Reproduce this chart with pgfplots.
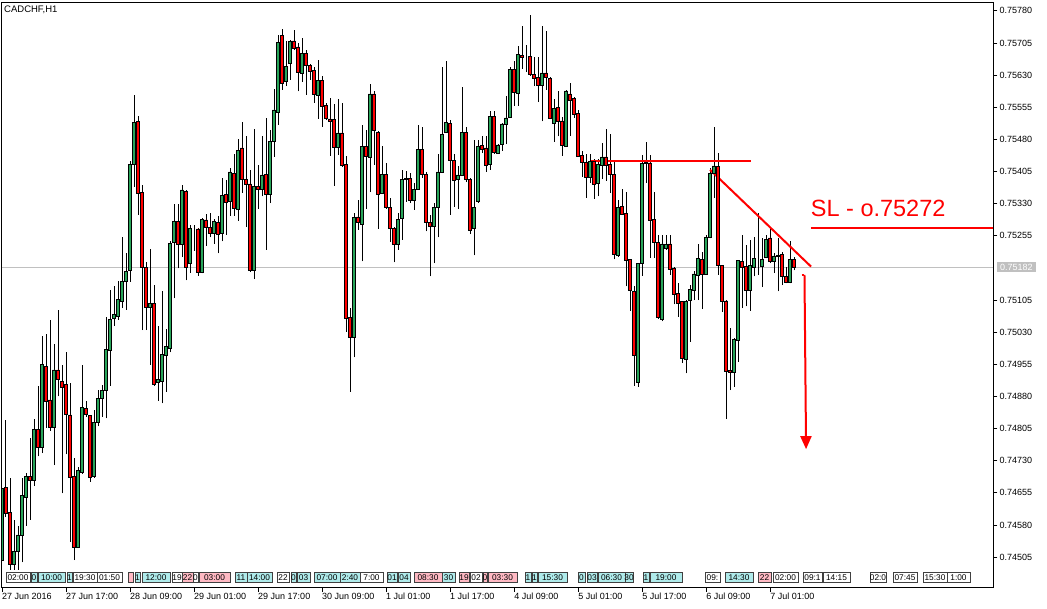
\documentclass[border=0pt]{standalone}
\usepackage{fontspec}
\setmainfont{Liberation Sans}
\usepackage{pgfplots}
\usepackage{pgfplotstable}
\pgfplotsset{compat=1.18}
\usetikzlibrary{arrows.meta}

\definecolor{bull}{RGB}{40,165,90}
\definecolor{bear}{RGB}{255,0,0}
\definecolor{evcyan}{RGB}{175,235,235}
\definecolor{evpink}{RGB}{255,185,195}
\definecolor{pricegray}{RGB}{192,192,192}

% CADCHF hourly bars: index, open, high, low, close
\pgfplotstableread{
j o h l c
0 0.74498 0.74673 0.74486 0.74666
1 0.74668 0.74825 0.74599 0.74607
2 0.74610 0.74689 0.74475 0.74488
3 0.74488 0.74592 0.74475 0.74519
4 0.74519 0.74578 0.74475 0.74557
5 0.74557 0.74689 0.74493 0.74650
6 0.74645 0.74701 0.74578 0.74693
7 0.74693 0.74782 0.74592 0.74685
8 0.74685 0.74827 0.74671 0.74803
9 0.74803 0.74905 0.74740 0.74761
10 0.74761 0.75021 0.74748 0.74954
11 0.74951 0.75026 0.74807 0.74868
12 0.74872 0.75059 0.74800 0.74807
13 0.74807 0.75002 0.74720 0.74942
14 0.74942 0.75082 0.74880 0.74919
15 0.74916 0.74954 0.74654 0.74902
16 0.74909 0.74983 0.74745 0.74839
17 0.74837 0.74911 0.74541 0.74691
18 0.74693 0.74736 0.74498 0.74529
19 0.74529 0.74716 0.74526 0.74708
20 0.74702 0.74954 0.74700 0.74855
21 0.74853 0.74870 0.74833 0.74839
22 0.74835 0.74837 0.74681 0.74691
23 0.74693 0.74849 0.74690 0.74820
24 0.74820 0.74895 0.74810 0.74876
25 0.74876 0.74907 0.74833 0.74895
26 0.74895 0.75066 0.74829 0.74989
27 0.74987 0.75129 0.74905 0.75060
28 0.75063 0.75137 0.75045 0.75072
29 0.75068 0.75150 0.75059 0.75107
30 0.75101 0.75252 0.75086 0.75148
31 0.75148 0.75214 0.75082 0.75172
32 0.75174 0.75430 0.75148 0.75421
33 0.75421 0.75584 0.75370 0.75520
34 0.75522 0.75535 0.75304 0.75355
35 0.75357 0.75374 0.75035 0.75181
36 0.75182 0.75193 0.75035 0.75088
37 0.75088 0.75225 0.74954 0.75098
38 0.75098 0.75140 0.74905 0.74909
39 0.74913 0.75045 0.74870 0.74919
40 0.74915 0.75125 0.74864 0.74979
41 0.74977 0.75038 0.74891 0.74996
42 0.74993 0.75243 0.74983 0.75238
43 0.75239 0.75330 0.75109 0.75289
44 0.75289 0.75330 0.75179 0.75236
45 0.75236 0.75374 0.75205 0.75362
46 0.75359 0.75362 0.75151 0.75181
47 0.75190 0.75279 0.75169 0.75273
48 0.75271 0.75281 0.75220 0.75271
49 0.75271 0.75273 0.75162 0.75169
50 0.75169 0.75296 0.75167 0.75294
51 0.75292 0.75306 0.75232 0.75275
52 0.75275 0.75309 0.75251 0.75261
53 0.75261 0.75295 0.75236 0.75289
54 0.75287 0.75302 0.75214 0.75259
55 0.75261 0.75390 0.75242 0.75350
56 0.75352 0.75386 0.75257 0.75334
57 0.75336 0.75414 0.75302 0.75404
58 0.75401 0.75446 0.75302 0.75320
59 0.75317 0.75481 0.75290 0.75455
60 0.75460 0.75520 0.75355 0.75387
61 0.75387 0.75488 0.75275 0.75376
62 0.75376 0.75408 0.75170 0.75175
63 0.75175 0.75505 0.75154 0.75371
64 0.75371 0.75421 0.75318 0.75364
65 0.75364 0.75487 0.75347 0.75397
66 0.75399 0.75530 0.75222 0.75352
67 0.75352 0.75502 0.75331 0.75476
68 0.75476 0.75598 0.75440 0.75549
69 0.75544 0.75724 0.75514 0.75707
70 0.75722 0.75738 0.75596 0.75611
71 0.75616 0.75710 0.75604 0.75651
72 0.75658 0.75713 0.75619 0.75708
73 0.75710 0.75736 0.75689 0.75693
74 0.75696 0.75705 0.75592 0.75637
75 0.75635 0.75717 0.75615 0.75680
76 0.75680 0.75689 0.75584 0.75653
77 0.75653 0.75656 0.75619 0.75638
78 0.75641 0.75650 0.75565 0.75586
79 0.75583 0.75666 0.75528 0.75618
80 0.75618 0.75628 0.75510 0.75557
81 0.75560 0.75565 0.75526 0.75529
82 0.75528 0.75576 0.75442 0.75523
83 0.75526 0.75563 0.75372 0.75461
84 0.75462 0.75575 0.75444 0.75495
85 0.75495 0.75566 0.75415 0.75419
86 0.75422 0.75442 0.75031 0.75063
87 0.75065 0.75086 0.74891 0.75018
88 0.75018 0.75308 0.74971 0.75297
89 0.75299 0.75339 0.75269 0.75287
90 0.75282 0.75514 0.75195 0.75463
91 0.75463 0.75502 0.75317 0.75440
92 0.75439 0.75609 0.75357 0.75586
93 0.75586 0.75593 0.75421 0.75501
94 0.75497 0.75500 0.75271 0.75352
95 0.75355 0.75465 0.75352 0.75399
96 0.75399 0.75425 0.75318 0.75321
97 0.75322 0.75343 0.75240 0.75273
98 0.75273 0.75275 0.75193 0.75236
99 0.75236 0.75309 0.75222 0.75294
100 0.75296 0.75409 0.75246 0.75387
101 0.75387 0.75407 0.75335 0.75389
102 0.75389 0.75401 0.75331 0.75337
103 0.75337 0.75378 0.75316 0.75364
104 0.75364 0.75514 0.75362 0.75456
105 0.75456 0.75508 0.75391 0.75399
106 0.75399 0.75405 0.75265 0.75287
107 0.75287 0.75304 0.75160 0.75278
108 0.75278 0.75331 0.75191 0.75322
109 0.75322 0.75446 0.75251 0.75404
110 0.75404 0.75648 0.75401 0.75492
111 0.75497 0.75662 0.75495 0.75520
112 0.75518 0.75526 0.75304 0.75431
113 0.75431 0.75446 0.75323 0.75384
114 0.75387 0.75417 0.75318 0.75397
115 0.75397 0.75602 0.75396 0.75497
116 0.75497 0.75509 0.75380 0.75387
117 0.75387 0.75389 0.75259 0.75267
118 0.75273 0.75479 0.75209 0.75322
119 0.75335 0.75479 0.75331 0.75463
120 0.75466 0.75487 0.75448 0.75457
121 0.75460 0.75487 0.75405 0.75419
122 0.75421 0.75547 0.75409 0.75534
123 0.75534 0.75547 0.75446 0.75449
124 0.75448 0.75469 0.75446 0.75467
125 0.75469 0.75518 0.75454 0.75516
126 0.75516 0.75582 0.75469 0.75530
127 0.75532 0.75649 0.75530 0.75644
128 0.75644 0.75662 0.75559 0.75590
129 0.75588 0.75697 0.75559 0.75679
130 0.75676 0.75745 0.75645 0.75672
131 0.75674 0.75701 0.75637 0.75674
132 0.75674 0.75771 0.75629 0.75632
133 0.75631 0.75673 0.75604 0.75623
134 0.75625 0.75673 0.75567 0.75606
135 0.75606 0.75745 0.75522 0.75635
136 0.75635 0.75732 0.75596 0.75625
137 0.75623 0.75625 0.75527 0.75530
138 0.75518 0.75574 0.75475 0.75553
139 0.75555 0.75593 0.75487 0.75522
140 0.75523 0.75533 0.75442 0.75466
141 0.75465 0.75596 0.75463 0.75593
142 0.75586 0.75611 0.75489 0.75572
143 0.75576 0.75578 0.75530 0.75539
144 0.75541 0.75549 0.75439 0.75440
145 0.75442 0.75454 0.75393 0.75426
146 0.75427 0.75446 0.75344 0.75391
147 0.75391 0.75446 0.75378 0.75428
148 0.75428 0.75435 0.75341 0.75376
149 0.75378 0.75435 0.75347 0.75421
150 0.75419 0.75471 0.75387 0.75439
151 0.75439 0.75505 0.75384 0.75419
152 0.75421 0.75493 0.75356 0.75399
153 0.75399 0.75432 0.75200 0.75212
154 0.75209 0.75339 0.75206 0.75322
155 0.75323 0.75365 0.75304 0.75305
156 0.75308 0.75358 0.75137 0.75197
157 0.75199 0.75201 0.75080 0.75127
158 0.75125 0.75138 0.74905 0.74975
159 0.74913 0.75191 0.74903 0.75190
160 0.75190 0.75444 0.75162 0.75423
161 0.75423 0.75473 0.75378 0.75426
162 0.75425 0.75444 0.75203 0.75292
163 0.75294 0.75358 0.75203 0.75240
164 0.75240 0.75257 0.75061 0.75065
165 0.75061 0.75257 0.75055 0.75236
166 0.75226 0.75257 0.75222 0.75234
167 0.75236 0.75257 0.75164 0.75177
168 0.75179 0.75181 0.75095 0.75119
169 0.75121 0.75144 0.75066 0.75098
170 0.75101 0.75103 0.74958 0.74968
171 0.74967 0.75105 0.74934 0.75101
172 0.75105 0.75140 0.75008 0.75129
173 0.75127 0.75172 0.75105 0.75166
174 0.75162 0.75236 0.75105 0.75203
175 0.75200 0.75218 0.75084 0.75165
176 0.75165 0.75257 0.75164 0.75252
177 0.75252 0.75413 0.75249 0.75401
178 0.75401 0.75509 0.75343 0.75418
179 0.75417 0.75448 0.75164 0.75185
180 0.75185 0.75187 0.75078 0.75101
181 0.75103 0.75105 0.74827 0.74938
182 0.74940 0.75039 0.74895 0.74936
183 0.74936 0.75016 0.74903 0.75014
184 0.75012 0.75199 0.74961 0.75197
185 0.75195 0.75257 0.75086 0.75181
186 0.75183 0.75234 0.75090 0.75127
187 0.75127 0.75246 0.75080 0.75185
188 0.75181 0.75253 0.75160 0.75203
189 0.75197 0.75308 0.75164 0.75197
190 0.75183 0.75250 0.75135 0.75200
191 0.75204 0.75257 0.75203 0.75246
192 0.75250 0.75273 0.75191 0.75195
193 0.75195 0.75214 0.75168 0.75208
194 0.75207 0.75250 0.75125 0.75209
195 0.75212 0.75218 0.75140 0.75160
196 0.75161 0.75183 0.75144 0.75147
197 0.75146 0.75242 0.75144 0.75200
198 0.75200 0.75206 0.75174 0.75182
}\candles

% common frame for the two stacked layers (wicks below, bodies above)
\pgfplotsset{
  chartframe/.style={
    at={(2pt,21pt)}, anchor=south west,
    scale only axis, width=991.3pt, height=585.3pt,
    xmin=0, xmax=247.8, ymin=0.74433, ymax=0.75799,
  },
}

% calendar event tag in the strip above the time scale
\newcommand{\evbox}[4]{%
  \draw[draw=black!75, line width=0.5pt, fill=#3] (#1,572.5) rectangle (#2,582.5);
  \node[font=\fontsize{8.3}{9}\selectfont, inner sep=0pt, text=black] at ({(#1+#2)/2},577.8) {#4};}

\begin{document}
\begin{tikzpicture}
\useasboundingbox (0,0) rectangle (1047pt,609pt);
\fill[white] (0,0) rectangle (1047pt,609pt);

% layer 1: frame, scales, bid line and wicks
\begin{axis}[
  chartframe,
  axis line style={black, line width=1pt},
  tick style={black, line width=0.8pt},
  tick align=outside, major tick length=4pt,
  xtick pos=bottom, ytick pos=right, yticklabel pos=right,
  xtick={0,16,...,192},
  xticklabels={27 Jun 2016, 27 Jun 17:00, 28 Jun 09:00, 29 Jun 01:00, 29 Jun 17:00, 30 Jun 09:00, 1 Jul 01:00, 1 Jul 17:00, 4 Jul 09:00, 5 Jul 01:00, 5 Jul 17:00, 6 Jul 09:00, 7 Jul 01:00},
  xticklabel style={anchor=north west, inner xsep=0pt, inner ysep=1pt, font=\fontsize{9}{10}\selectfont},
  ytick={0.74505,0.74580,0.74655,0.74730,0.74805,0.74880,0.74955,0.75030,0.75105,0.75255,0.75330,0.75405,0.75480,0.75555,0.75630,0.75705,0.75780},
  yticklabel style={anchor=west, inner xsep=2pt, font=\fontsize{9}{10}\selectfont},
  /pgf/number format/fixed, /pgf/number format/fixed zerofill,
  /pgf/number format/precision=5, /pgf/number format/assume math mode=true,
]
\draw[pricegray, line width=1pt] (axis cs:0,0.75182) -- (axis cs:247.8,0.75182);
\addplot[draw=none, mark=none,
  error bars/.cd, y dir=plus, y explicit, error mark=none,
  error bar style={draw=black, line width=1pt, solid}]
  table[x=j, y=l, y error plus expr={\thisrow{h}-\thisrow{l}}] {\candles};
\end{axis}

% layer 2: candle bodies and the trader's markup
\begin{axis}[
  chartframe, hide axis,
  ybar stacked, bar width=0.8,
]
% invisible base at the lower body edge
\addplot[draw=none, fill=none]
  table[x=j, y expr={min(\thisrow{o},\thisrow{c})}] {\candles};
% rising bodies
\addplot[fill=bull, draw=black, line width=0.6pt]
  table[x=j, y expr={max(\thisrow{c}-\thisrow{o},0)}] {\candles};
% falling bodies
\addplot[fill=bear, draw=black, line width=0.6pt]
  table[x=j, y expr={max(\thisrow{o}-\thisrow{c},0)}] {\candles};
\draw[red, line width=2pt] (axis cs:147.25,0.75430) -- (axis cs:187.2,0.75430);
\draw[red, line width=2pt] (axis cs:177,0.75409) -- (axis cs:202.25,0.75183);
\draw[red, line width=2pt] (axis cs:202.2,0.75272) -- (axis cs:247.8,0.75272);
\draw[red, line width=2pt] (axis cs:199.9,0.75164) -- (axis cs:200.6,0.75164);
\draw[red, line width=2pt, -{Triangle[width=11pt,length=13pt]}]
  (axis cs:200.6,0.75164) -- (axis cs:201,0.74757);
\end{axis}

\begin{scope}[shift={(0pt,609pt)}, x=1pt, y=-1pt]
\node[anchor=west, inner sep=0pt, font=\fontsize{9.5}{10}\selectfont] at (4,10) {CADCHF,H1};
\node[anchor=base west, inner sep=0pt, text=red, font=\fontsize{23.5}{24}\selectfont] at (810.7,216.7) {SL - o.75272};
\node[anchor=west, fill=pricegray, text=white, inner sep=0pt, minimum width=39.5pt, minimum height=10pt,
      font=\fontsize{9}{10}\selectfont] at (996.5,267.5) {0.75182};
\evbox{6}{30}{white}{02:00}
\evbox{31}{37}{evcyan}{0}
\evbox{38}{65}{evcyan}{10:00}
\evbox{67}{72}{evcyan}{1}
\evbox{73}{97}{white}{19:30}
\evbox{97}{122}{white}{01:50}
\evbox{128}{133}{evpink}{}
\evbox{135}{140}{evcyan}{1}
\evbox{142}{170}{evcyan}{12:00}
\evbox{172}{182}{white}{19}
\evbox{182}{193}{evpink}{22}
\evbox{193}{198}{white}{0}
\evbox{199}{230}{evpink}{03:00}
\evbox{235}{247}{evcyan}{11}
\evbox{247}{272}{evcyan}{14:00}
\evbox{277}{289}{white}{22}
\evbox{291}{296}{evcyan}{0}
\evbox{297}{310}{evcyan}{03}
\evbox{314}{340}{evcyan}{07:00}
\evbox{340}{360}{evcyan}{2:40}
\evbox{360}{383}{white}{7:00}
\evbox{387}{397}{evcyan}{01}
\evbox{398}{410}{evcyan}{04}
\evbox{414}{442}{evpink}{08:30}
\evbox{442}{455}{evcyan}{30}
\evbox{459}{469}{evpink}{19}
\evbox{470}{482}{white}{02}
\evbox{483}{487}{evpink}{0}
\evbox{488}{517}{evpink}{03:30}
\evbox{525}{531}{evcyan}{1}
\evbox{532}{537}{evcyan}{1}
\evbox{538}{567}{evcyan}{15:30}
\evbox{578}{585}{evcyan}{0}
\evbox{587}{597}{evcyan}{03}
\evbox{598}{625}{evcyan}{06:30}
\evbox{625}{633}{evcyan}{30}
\evbox{643}{649}{evcyan}{1}
\evbox{650}{682}{evcyan}{19:00}
\evbox{705}{720}{white}{09:}
\evbox{725}{753}{evcyan}{14:30}
\evbox{758}{771}{evpink}{22}
\evbox{773}{798}{white}{02:00}
\evbox{803}{822}{white}{09:1}
\evbox{823}{850}{white}{14:15}
\evbox{870}{886}{white}{02:0}
\evbox{893}{917}{white}{07:45}
\evbox{923}{947}{white}{15:30}
\evbox{947}{970}{white}{1:00}
\end{scope}
\end{tikzpicture}
\end{document}
